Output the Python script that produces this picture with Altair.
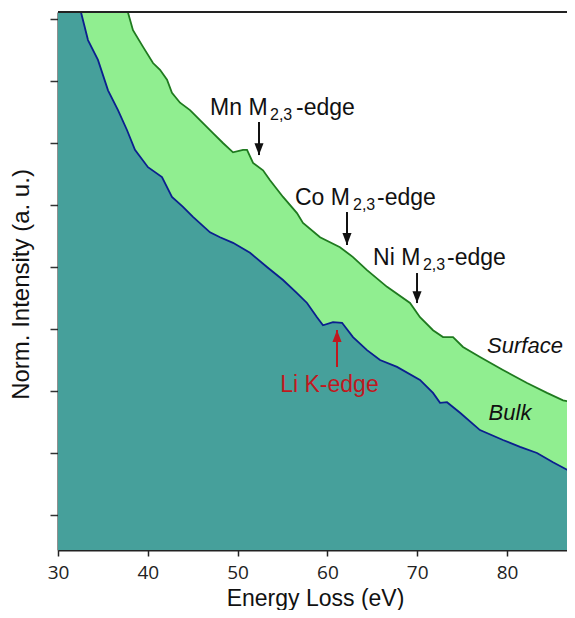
import altair as alt
import pandas as pd

# ---- spectra (energy in eV, normalized intensity in arbitrary units) ----
energy_bulk = [30.0, 32.56, 33.34, 34.45, 35.57, 36.68, 37.68, 38.57, 40.02, 41.58,
               42.69, 43.92, 45.03, 46.93, 48.04, 49.49, 51.38, 53.27, 55.06, 56.61,
               57.73, 58.84, 59.51, 60.62, 61.63, 62.85, 64.41, 65.86, 67.75, 70.31,
               71.76, 72.54, 73.32, 74.77, 76.99, 79.55, 81.45, 83.34, 85.12, 86.68, 87.57]
intensity_bulk = [10.6, 9.11, 8.66, 8.34, 7.85, 7.53, 7.21, 6.89, 6.61, 6.45,
                  6.13, 5.97, 5.81, 5.56, 5.48, 5.39, 5.23, 5.00, 4.79, 4.58,
                  4.42, 4.19, 4.06, 4.11, 4.10, 3.87, 3.66, 3.50, 3.39, 3.18,
                  2.97, 2.81, 2.82, 2.65, 2.37, 2.21, 2.10, 2.00, 1.85, 1.73, 1.69]

energy_surface = [30.0, 34.68, 37.80, 38.35, 39.47, 40.58, 41.36, 42.14, 42.69, 43.59,
                  44.70, 45.81, 47.26, 48.37, 49.49, 50.60, 51.05, 51.72, 52.83, 53.61,
                  55.06, 56.61, 57.28, 59.18, 61.40, 62.85, 64.41, 66.64, 69.20, 70.31,
                  71.76, 72.87, 73.99, 75.10, 76.99, 79.55, 82.23, 84.45, 86.24, 87.57]
intensity_surface = [12.8, 10.6, 9.10, 8.82, 8.55, 8.29, 8.18, 8.02, 7.81, 7.65,
                     7.53, 7.37, 7.16, 7.00, 6.85, 6.89, 6.89, 6.68, 6.56, 6.40,
                     6.13, 5.87, 5.71, 5.48, 5.32, 5.16, 4.95, 4.68, 4.42, 4.19,
                     3.98, 3.87, 3.87, 3.71, 3.55, 3.34, 3.13, 2.97, 2.85, 2.81]

# ---- axis ticks ----
x_ticks = [30, 40, 50, 60, 70, 80]
y_ticks = [1, 2, 3, 4, 5, 6, 7, 8, 9]
x_domain = [30, 86.68]
y_domain = [0.436, 9.113]

# ---- edge annotations (label pieces: main text, subscript, suffix) ----
edge_main_text = ["Mn M", "Co M", "Ni M"]
edge_main_e = [46.93, 56.39, 65.08]
edge_main_v = [7.452, 6.000, 5.032]
edge_sub_text = ["2,3", "2,3", "2,3"]
edge_sub_e = [53.61, 62.85, 70.64]
edge_sub_v = [7.371, 5.919, 4.952]
edge_suffix_text = ["-edge", "-edge", "-edge"]
edge_suffix_e = [56.50, 65.52, 73.32]
edge_suffix_v = [7.452, 6.000, 5.032]

# down arrows (black): energy, start, tip
arrow_down_e = [52.38, 62.18, 69.98]
arrow_down_start = [7.339, 5.887, 4.903]
arrow_down_tip = [6.806, 5.355, 4.419]

# Li K-edge (red, up arrow)
li_text = ["Li K-edge"]
li_e = [60.23]
li_v = [2.984]
li_arrow_e = [61.07]
li_arrow_start = [3.387]
li_arrow_tip = [3.984]

# curve labels
curve_label_text = ["Surface", "Bulk"]
curve_label_e = [82.0, 80.33]
curve_label_v = [3.613, 2.532]

# ---- colours ----
SURF_FILL = "#90EE90"
SURF_LINE = "#1F7A1F"
BULK_FILL = "#46A09B"
BULK_LINE = "#0B1F8F"
RED = "#C0181E"
AXIS = "#222222"

W, H = 509, 538

bulk = pd.DataFrame({"E": energy_bulk, "v": intensity_bulk})
surface = pd.DataFrame({"E": energy_surface, "v": intensity_surface})
edge_main = pd.DataFrame({"E": edge_main_e, "v": edge_main_v, "t": edge_main_text})
edge_sub = pd.DataFrame({"E": edge_sub_e, "v": edge_sub_v, "t": edge_sub_text})
edge_suffix = pd.DataFrame({"E": edge_suffix_e, "v": edge_suffix_v, "t": edge_suffix_text})
arrows_down = pd.DataFrame({"E": arrow_down_e, "v": arrow_down_start, "v2": arrow_down_tip})
li_label = pd.DataFrame({"E": li_e, "v": li_v, "t": li_text})
li_arrow = pd.DataFrame({"E": li_arrow_e, "v": li_arrow_start, "v2": li_arrow_tip})
curve_labels = pd.DataFrame({"E": curve_label_e, "v": curve_label_v, "t": curve_label_text})

y_scale = alt.Scale(domain=y_domain, nice=False, zero=False)
x_enc = alt.X(
    "E:Q",
    scale=alt.Scale(domain=x_domain, nice=False, zero=False),
    axis=alt.Axis(
        values=x_ticks, title="Energy Loss (eV)", grid=False,
        labelFont="Open Sans", labelFontSize=19, labelColor="#222",
        labelPadding=7, labelFlush=False,
        tickSize=6, tickColor=AXIS, tickWidth=1.5,
        domainColor=AXIS, domainWidth=2,
        titleFont="Liberation Sans", titleFontSize=23, titleFontWeight="normal",
        titleColor="#111", titleX=257, titleY=55, titleBaseline="alphabetic",
        titleAlign="center",
    ),
)
y_enc = alt.Y(
    "v:Q",
    scale=y_scale,
    axis=alt.Axis(
        values=y_ticks, labels=False, title="Norm. Intensity (a. u.)", grid=False,
        tickSize=8, tickColor="#333", tickWidth=1.5,
        domainColor=AXIS, domainWidth=2,
        titleFont="Liberation Sans", titleFontSize=24, titleFontWeight="normal",
        titleColor="#111", titleX=-25, titleY=272, titleAngle=270,
        titleBaseline="bottom", titleAlign="center",
    ),
)

surf_area = alt.Chart(surface).mark_area(color=SURF_FILL, opacity=1, clip=True).encode(x=x_enc, y=y_enc)
surf_line = alt.Chart(surface).mark_line(color=SURF_LINE, strokeWidth=1.8, clip=True).encode(x=x_enc, y=y_enc)
bulk_area = alt.Chart(bulk).mark_area(color=BULK_FILL, opacity=1, clip=True).encode(x=x_enc, y=y_enc)
bulk_line = alt.Chart(bulk).mark_line(color=BULK_LINE, strokeWidth=1.8, clip=True).encode(x=x_enc, y=y_enc)

top_border = alt.Chart(bulk).mark_rule(color=AXIS, strokeWidth=2).encode(
    x=alt.value(0), x2=alt.value(W), y=alt.value(0)
)

txt = dict(font="Liberation Sans", baseline="alphabetic", align="left", color="#111")
main_t = alt.Chart(edge_main).mark_text(fontSize=23, **txt).encode(x=x_enc, y=y_enc, text="t:N")
sub_t = alt.Chart(edge_sub).mark_text(fontSize=16, **txt).encode(x=x_enc, y=y_enc, text="t:N")
suffix_t = alt.Chart(edge_suffix).mark_text(fontSize=23, **txt).encode(x=x_enc, y=y_enc, text="t:N")

down_shaft = alt.Chart(arrows_down).mark_rule(color="#111", strokeWidth=2).encode(
    x=x_enc, y=y_enc, y2=alt.Y2("v2:Q")
)
down_head = alt.Chart(arrows_down).mark_point(
    shape="M-0.65,-1.7L0.65,-1.7L0,0Z", filled=True, size=196, color="#111", opacity=1
).encode(x=x_enc, y=alt.Y("v2:Q", scale=y_scale))

li_t = alt.Chart(li_label).mark_text(
    fontSize=23, font="Liberation Sans", baseline="alphabetic", align="center", color=RED
).encode(x=x_enc, y=y_enc, text="t:N")
li_shaft = alt.Chart(li_arrow).mark_rule(color=RED, strokeWidth=2).encode(
    x=x_enc, y=y_enc, y2=alt.Y2("v2:Q")
)
li_head = alt.Chart(li_arrow).mark_point(
    shape="M-0.65,1.7L0.65,1.7L0,0Z", filled=True, size=196, color=RED, opacity=1
).encode(x=x_enc, y=alt.Y("v2:Q", scale=y_scale))

curve_t = alt.Chart(curve_labels).mark_text(
    fontSize=22, font="Liberation Sans", fontStyle="italic", baseline="alphabetic",
    align="center", color="#111"
).encode(x=x_enc, y=y_enc, text="t:N")

chart = alt.layer(
    surf_area, surf_line, bulk_area, bulk_line, top_border,
    main_t, sub_t, suffix_t, down_shaft, down_head,
    li_t, li_shaft, li_head, curve_t,
).properties(
    width=W, height=H,
    autosize=alt.AutoSizeParams(type="none"),
    padding={"left": 50, "top": 4, "right": 0, "bottom": 60},
    background="white",
).configure_view(stroke=None)

chart.save("out.html", embed_options={"renderer": "svg", "actions": False})
